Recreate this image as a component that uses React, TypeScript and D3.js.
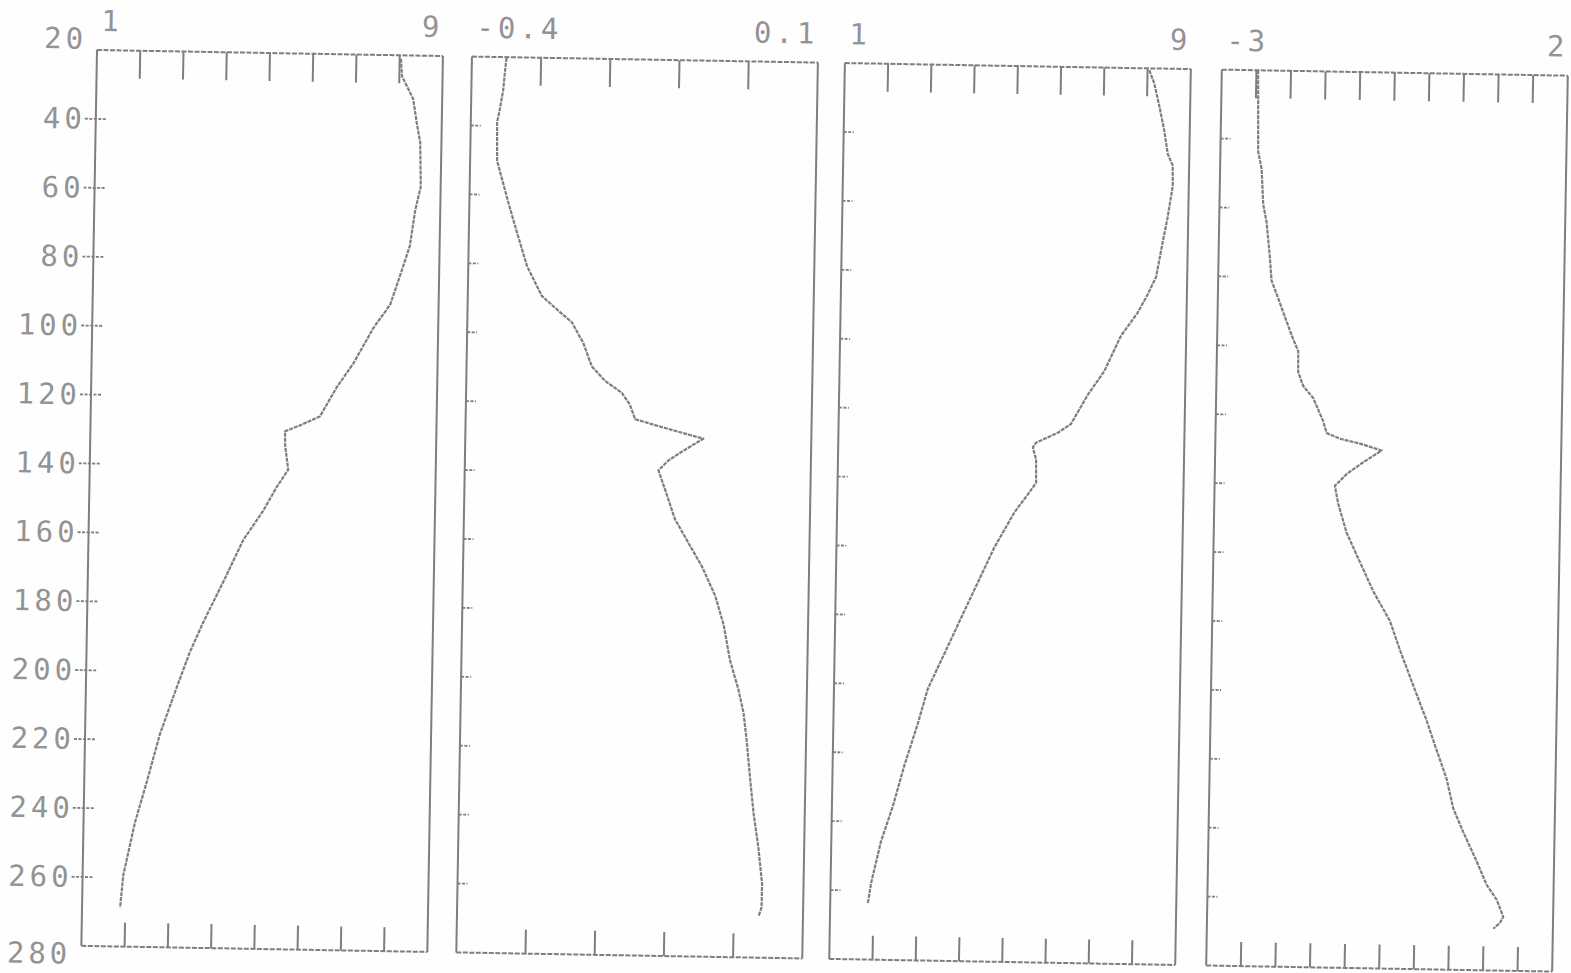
import React from "react";
import * as d3 from "d3";

// ---- data (depth, value) ----
const depthTicks = [20, 40, 60, 80, 100, 120, 140, 160, 180, 200, 220, 240, 260, 280];

const series1: [number, number][] = [
  [21, 8.03], [26, 8.06], [32.6, 8.33], [39.4, 8.42], [45.3, 8.51], [58, 8.54], [65, 8.42],
  [75.3, 8.31], [83.8, 8.1], [92.4, 7.88], [99.3, 7.5], [109.7, 7.05], [116.6, 6.68],
  [125.2, 6.3], [127.9, 5.84], [129.7, 5.5], [133.9, 5.51], [140.8, 5.59], [145.9, 5.33],
  [152.8, 5.03], [161.4, 4.58], [173.5, 4.14], [185.4, 3.69], [194.2, 3.39], [204.5, 3.1],
  [218.2, 2.73], [231.9, 2.45], [243.9, 2.19], [259.3, 1.94], [268.7, 1.88],
];

const series2: [number, number][] = [
  [20.2, -0.35], [24.5, -0.352], [29.6, -0.354], [34.7, -0.358], [39.0, -0.362], [50.1, -0.361],
  [53.6, -0.356], [62.0, -0.344], [70.5, -0.331], [80.6, -0.315], [89.1, -0.293], [92.4, -0.274],
  [96.6, -0.249], [102.5, -0.232], [109.3, -0.219], [113.5, -0.199], [116.8, -0.175],
  [120.2, -0.163], [124.4, -0.155], [126.0, -0.126], [127.3, -0.102], [129.7, -0.056],
  [133.6, -0.087], [136.2, -0.106], [139.1, -0.12], [144.7, -0.11], [153.2, -0.095],
  [160.0, -0.075], [166.7, -0.055], [175.2, -0.035], [183.6, -0.022], [193.8, -0.012],
  [202.3, 0.001], [209.1, 0.009], [217.6, 0.0145], [227.9, 0.02], [238.1, 0.026],
  [248.3, 0.034], [258.5, 0.04], [265.3, 0.04], [267.9, 0.036],
];

const series3: [number, number][] = [
  [20.5, 8.04], [24.3, 8.16], [31.1, 8.29], [37.9, 8.41], [44.7, 8.5], [48.1, 8.62], [54.0, 8.63],
  [63.4, 8.52], [70.3, 8.42], [80.5, 8.28], [85.7, 8.09], [90.9, 7.87], [97.8, 7.49],
  [108.1, 7.12], [115.0, 6.75], [123.6, 6.37], [126.2, 6.07], [129.2, 5.57], [130.6, 5.5],
  [134.0, 5.58], [140.8, 5.59], [144.3, 5.4], [149.5, 5.1], [159.8, 4.65], [170.1, 4.28],
  [180.4, 3.91], [190.8, 3.54], [201.1, 3.17], [211.4, 2.95], [223.4, 2.66], [235.3, 2.41],
  [245.6, 2.15], [257.6, 1.94], [263.6, 1.87],
];

const series4: [number, number][] = [
  [20, -2.475], [43.6, -2.454], [48.6, -2.4], [58.9, -2.368], [64.0, -2.315], [74.1, -2.259],
  [80.9, -2.229], [86.0, -2.129], [92.8, -2.0], [97.9, -1.9], [101.3, -1.825], [107.3, -1.821],
  [111.4, -1.744], [114.8, -1.597], [121.5, -1.447], [124.9, -1.395], [126.5, -1.201],
  [127.8, -0.91], [129.7, -0.595], [133.2, -0.858], [136.7, -1.095], [140.2, -1.262],
  [145.3, -1.21], [153.7, -1.081], [162.2, -0.88], [170.6, -0.68], [179.1, -0.432],
  [187.5, -0.28], [197.7, -0.079], [207.8, 0.123], [216.3, 0.274], [224.7, 0.428],
  [233.2, 0.53], [240.0, 0.681], [248.4, 0.881], [255.2, 1.032], [259.4, 1.18], [264.4, 1.28],
  [266.1, 1.234], [267.9, 1.14],
];

const panelDomains: [number, number][] = [[1, 9], [-0.4, 0.1], [1, 9], [-3, 2]];
const panelLabels: [string, string][] = [["1", "9"], ["-0.4", "0.1"], ["1", "9"], ["-3", "2"]];
const panelTicks: number[][] = [
  [2, 3, 4, 5, 6, 7, 8],
  [-0.3, -0.2, -0.1, 0.0],
  [2, 3, 4, 5, 6, 7, 8],
  [-2.5, -2, -1.5, -1, -0.5, 0, 0.5, 1, 1.5],
];
const panelSeries = [series1, series2, series3, series4];

// ---- layout ----
const W = 1571;
const H = 973;
const TOP = 50;
const BOTTOM = 946;
const PANEL_W = 346;
const panelLefts = [97, 472, 845, 1222];

const INK = "#7e7e7e";
const TEXT = "#939393";
const FONT = "'DejaVu Sans Mono', 'Liberation Mono', monospace";

export default function App() {
  const y = d3.scaleLinear().domain([20, 280]).range([TOP, BOTTOM]);
  const innerTicks = depthTicks.filter((d) => d !== 20 && d !== 280);

  return (
    <svg
      width={W}
      height={H}
      viewBox={`0 0 ${W} ${H}`}
      style={{ position: "absolute", left: 0, top: 0, background: "#fefefe" }}
    >
      <rect x={0} y={0} width={W} height={H} fill="#fefefe" />
      <g transform="rotate(1, 97, 50)">
        {/* y-axis labels of the first panel */}
        {depthTicks.map((d) => {
          const baseline = d === 20 ? y(d) - 1 : d === 280 ? y(d) + 18 : y(d) + 10;
          return (
            <text
              key={"yl" + d}
              x={panelLefts[0] - 10}
              y={baseline}
              textAnchor="end"
              fontFamily={FONT}
              fontSize={29}
              letterSpacing={4}
              fill={TEXT}
            >
              {d}
            </text>
          );
        })}
        {panelDomains.map((dom, i) => {
          const left = panelLefts[i];
          const right = left + PANEL_W;
          const x = d3.scaleLinear().domain(dom).range([left, right]);
          const line = d3
            .line<[number, number]>()
            .x((p) => x(p[1]))
            .y((p) => y(p[0]))
            .curve(d3.curveLinear);
          return (
            <g key={"p" + i}>
              {/* frame */}
              <line x1={left} y1={TOP} x2={right} y2={TOP} stroke={INK} strokeWidth={2} strokeDasharray="5 1.5" />
              <line x1={left} y1={BOTTOM} x2={right} y2={BOTTOM} stroke={INK} strokeWidth={2} strokeDasharray="5 1.5" />
              <line x1={left} y1={TOP} x2={left} y2={BOTTOM} stroke={INK} strokeWidth={2} />
              <line x1={right} y1={TOP} x2={right} y2={BOTTOM} stroke={INK} strokeWidth={2} />
              {/* top and bottom ticks */}
              {panelTicks[i].map((t) => (
                <g key={"t" + t}>
                  <line x1={x(t)} y1={TOP} x2={x(t)} y2={TOP + 28} stroke={INK} strokeWidth={2} />
                  <line x1={x(t)} y1={BOTTOM} x2={x(t)} y2={BOTTOM - 24} stroke={INK} strokeWidth={2} />
                </g>
              ))}
              {/* depth ticks */}
              {innerTicks.map((d) => (
                <line
                  key={"yt" + d}
                  x1={i === 0 ? left - 11 : left}
                  x2={i === 0 ? left + 11 : left + 10}
                  y1={y(d)}
                  y2={y(d)}
                  stroke={INK}
                  strokeWidth={1.8}
                  strokeDasharray="3 1.5"
                />
              ))}
              {/* range labels */}
              <text x={left + 4} y={TOP - 19} fontFamily={FONT} fontSize={29} letterSpacing={4} fill={TEXT}>
                {panelLabels[i][0]}
              </text>
              <text
                x={right}
                y={TOP - 19}
                textAnchor="end"
                fontFamily={FONT}
                fontSize={29}
                letterSpacing={4}
                fill={TEXT}
              >
                {panelLabels[i][1]}
              </text>
              {/* profile */}
              <path
                d={line(panelSeries[i]) || ""}
                fill="none"
                stroke={INK}
                strokeWidth={2.2}
                strokeDasharray="4 1"
                strokeLinejoin="round"
              />
            </g>
          );
        })}
      </g>
    </svg>
  );
}
